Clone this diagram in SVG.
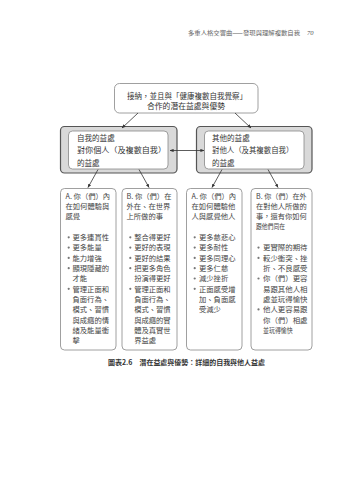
<svg xmlns="http://www.w3.org/2000/svg" width="354" height="480" viewBox="0 0 354 480">
<defs>
<marker id="ah" viewBox="0 0 10 10" refX="9" refY="5" markerWidth="5" markerHeight="5" orient="auto-start-reverse">
<path d="M0,1 L10,5 L0,9 z" fill="#333"/>
</marker>
<style>
text{font-family:"Noto Sans CJK TC","Noto Sans CJK SC",sans-serif;fill:#333}
.hd{font-size:5.8px;fill:#666}
.pg{font-family:"Liberation Serif",serif;font-style:italic;font-size:6.5px;fill:#555}
.t{font-size:7.5px}
.b{font-size:7.3px;fill:#444}
.dot{fill:#777}
.cap{font-size:6.9px;font-weight:bold;fill:#333}
.box{fill:#fff;stroke:#888;stroke-width:0.8}
.outer{fill:#d9d9d9;stroke:#555;stroke-width:1.2}
.con{stroke:#333;stroke-width:0.8;fill:none;marker-end:url(#ah)}
</style>
</defs>
<rect width="354" height="480" fill="#fff"/>
<text class="hd" x="188" y="35" textLength="112" lengthAdjust="spacingAndGlyphs">多重人格交響曲——發現與理解複數自我</text>
<text class="pg" x="307" y="35">70</text>

<g id="top">
<rect class="box" x="114.5" y="83.5" width="143.5" height="29.5" rx="5" stroke="#777"/>
<text class="t" x="127" y="98.5" textLength="120" lengthAdjust="spacingAndGlyphs">接納，並且與「健康複數自我覺察」</text>
<text class="t" x="147" y="108.8" textLength="78" lengthAdjust="spacingAndGlyphs">合作的潛在益處與優勢</text>
</g>

<g id="self">
<rect class="outer" x="60.5" y="126.5" width="116.5" height="46.5" rx="4"/>
<rect class="box" x="68.5" y="131" width="99.5" height="38" rx="4"/>
<text class="t" x="77" y="140.8" textLength="37.7" lengthAdjust="spacingAndGlyphs">自我的益處</text>
<text class="t" x="77" y="153.3" textLength="89" lengthAdjust="spacingAndGlyphs">對你個人（及複數自我）</text>
<text class="t" x="77" y="165.8" textLength="22.6" lengthAdjust="spacingAndGlyphs">的益處</text>
</g>

<g id="others">
<rect class="outer" x="196.5" y="126.5" width="115.5" height="46.5" rx="4"/>
<rect class="box" x="204.5" y="131" width="99.5" height="38" rx="4"/>
<text class="t" x="212" y="140.8" textLength="37.7" lengthAdjust="spacingAndGlyphs">其他的益處</text>
<text class="t" x="212" y="153.3" textLength="81.3" lengthAdjust="spacingAndGlyphs">對他人（及其複數自我）</text>
<text class="t" x="212" y="165.8" textLength="22.6" lengthAdjust="spacingAndGlyphs">的益處</text>
</g>

<g id="boxA1">
<rect class="box" x="60.5" y="188.5" width="55.5" height="161.5" rx="4"/>
<text class="b" x="65.5" y="198.5">A. 你（們）內</text>
<text class="b" x="65.5" y="208.8">在如何體驗與</text>
<text class="b" x="65.5" y="219.1">感覺</text>
<g>
<circle class="dot" cx="68.7" cy="237.3" r="1.1"/>
<circle class="dot" cx="68.7" cy="247.6" r="1.1"/>
<circle class="dot" cx="68.7" cy="257.9" r="1.1"/>
<circle class="dot" cx="68.7" cy="268.2" r="1.1"/>
<circle class="dot" cx="68.7" cy="288.8" r="1.1"/>
</g>
<text class="b" x="72.5" y="240.1">更多連貫性</text>
<text class="b" x="72.5" y="250.4">更多能量</text>
<text class="b" x="72.5" y="260.7">能力增強</text>
<text class="b" x="72.5" y="271">顯現隱藏的</text>
<text class="b" x="72.5" y="281.3">才能</text>
<text class="b" x="72.5" y="291.6">管理正面和</text>
<text class="b" x="72.5" y="301.9">負面行為、</text>
<text class="b" x="72.5" y="312.2">模式、習慣</text>
<text class="b" x="72.5" y="322.5">與成癮的情</text>
<text class="b" x="72.5" y="332.8">緒及能量衝</text>
<text class="b" x="72.5" y="343.1">擊</text>
</g>

<g id="boxB1">
<rect class="box" x="122" y="188.5" width="55" height="161.5" rx="4"/>
<text class="b" x="126.5" y="198.5">B. 你（們）在</text>
<text class="b" x="126.5" y="208.8">外在、在世界</text>
<text class="b" x="126.5" y="219.1">上所做的事</text>
<g>
<circle class="dot" cx="130.3" cy="237.3" r="1.1"/>
<circle class="dot" cx="130.3" cy="247.6" r="1.1"/>
<circle class="dot" cx="130.3" cy="257.9" r="1.1"/>
<circle class="dot" cx="130.3" cy="268.2" r="1.1"/>
<circle class="dot" cx="130.3" cy="288.8" r="1.1"/>
</g>
<text class="b" x="134.2" y="240.1">整合得更好</text>
<text class="b" x="134.2" y="250.4">更好的表現</text>
<text class="b" x="134.2" y="260.7">更好的結果</text>
<text class="b" x="134.2" y="271">把更多角色</text>
<text class="b" x="134.2" y="281.3">扮演得更好</text>
<text class="b" x="134.2" y="291.6">管理正面和</text>
<text class="b" x="134.2" y="301.9">負面行為、</text>
<text class="b" x="134.2" y="312.2">模式、習慣</text>
<text class="b" x="134.2" y="322.5">與成癮的實</text>
<text class="b" x="134.2" y="332.8">體及真實世</text>
<text class="b" x="134.2" y="343.1">界益處</text>
</g>

<g id="boxA2">
<rect class="box" x="186.5" y="188.5" width="55.5" height="161.5" rx="4"/>
<text class="b" x="191.5" y="198.5">A. 你（們）內</text>
<text class="b" x="191.5" y="208.8">在如何體驗他</text>
<text class="b" x="191.5" y="219.1">人與感覺他人</text>
<g>
<circle class="dot" cx="194.7" cy="237.3" r="1.1"/>
<circle class="dot" cx="194.7" cy="247.6" r="1.1"/>
<circle class="dot" cx="194.7" cy="257.9" r="1.1"/>
<circle class="dot" cx="194.7" cy="268.2" r="1.1"/>
<circle class="dot" cx="194.7" cy="278.5" r="1.1"/>
<circle class="dot" cx="194.7" cy="288.8" r="1.1"/>
</g>
<text class="b" x="199" y="240.1">更多慈悲心</text>
<text class="b" x="199" y="250.4">更多耐性</text>
<text class="b" x="199" y="260.7">更多同理心</text>
<text class="b" x="199" y="271">更多仁慈</text>
<text class="b" x="199" y="281.3">減少挫折</text>
<text class="b" x="199" y="291.6">正面感受增</text>
<text class="b" x="199" y="301.9">加、負面感</text>
<text class="b" x="199" y="312.2">受減少</text>
</g>

<g id="boxB2">
<rect class="box" x="251" y="188.5" width="61" height="161.5" rx="4"/>
<text class="b" x="256" y="198.5" textLength="50.7" lengthAdjust="spacingAndGlyphs">B. 你（們）在外</text>
<text class="b" x="256" y="208.8" textLength="50.7" lengthAdjust="spacingAndGlyphs">在對他人所做的</text>
<text class="b" x="256" y="219.1" textLength="50.7" lengthAdjust="spacingAndGlyphs">事，還有你如何</text>
<text class="b" x="256" y="229.4" textLength="29" lengthAdjust="spacingAndGlyphs">跟他們同在</text>
<g>
<circle class="dot" cx="258.5" cy="247.6" r="1.1"/>
<circle class="dot" cx="258.5" cy="257.9" r="1.1"/>
<circle class="dot" cx="258.5" cy="278.5" r="1.1"/>
<circle class="dot" cx="258.5" cy="309.4" r="1.1"/>
</g>
<text class="b" x="263" y="250.4" textLength="44.5" lengthAdjust="spacingAndGlyphs">更實際的期待</text>
<text class="b" x="263" y="260.7" textLength="44.5" lengthAdjust="spacingAndGlyphs">較少衝突、挫</text>
<text class="b" x="263" y="271" textLength="44.5" lengthAdjust="spacingAndGlyphs">折、不良感受</text>
<text class="b" x="263" y="281.3" textLength="44.5" lengthAdjust="spacingAndGlyphs">你（們）更容</text>
<text class="b" x="263" y="291.6" textLength="44.5" lengthAdjust="spacingAndGlyphs">易跟其他人相</text>
<text class="b" x="263" y="301.9" textLength="44.5" lengthAdjust="spacingAndGlyphs">處並玩得愉快</text>
<text class="b" x="263" y="312.2" textLength="44.5" lengthAdjust="spacingAndGlyphs">他人更容易跟</text>
<text class="b" x="263" y="322.5" textLength="44.5" lengthAdjust="spacingAndGlyphs">你（們）相處</text>
<text class="b" x="263" y="332.8" textLength="29.7" lengthAdjust="spacingAndGlyphs">並玩得愉快</text>
</g>

<g id="connectors">
<line class="con" x1="138" y1="113" x2="122" y2="128"/>
<line class="con" x1="235" y1="113" x2="251" y2="128"/>
<line class="con" x1="170" y1="150.5" x2="204" y2="150.5" marker-start="url(#ah)"/>
<line class="con" x1="98" y1="169.5" x2="88" y2="187.5"/>
<line class="con" x1="139" y1="169.5" x2="149" y2="187.5"/>
<line class="con" x1="222" y1="169.5" x2="212" y2="187.5"/>
<line class="con" x1="268" y1="169.5" x2="278" y2="187.5"/>
</g>

<text class="cap" x="108" y="365.3" textLength="157" lengthAdjust="spacingAndGlyphs">圖表2.6　潛在益處與優勢：詳細的自我與他人益處</text>
</svg>
